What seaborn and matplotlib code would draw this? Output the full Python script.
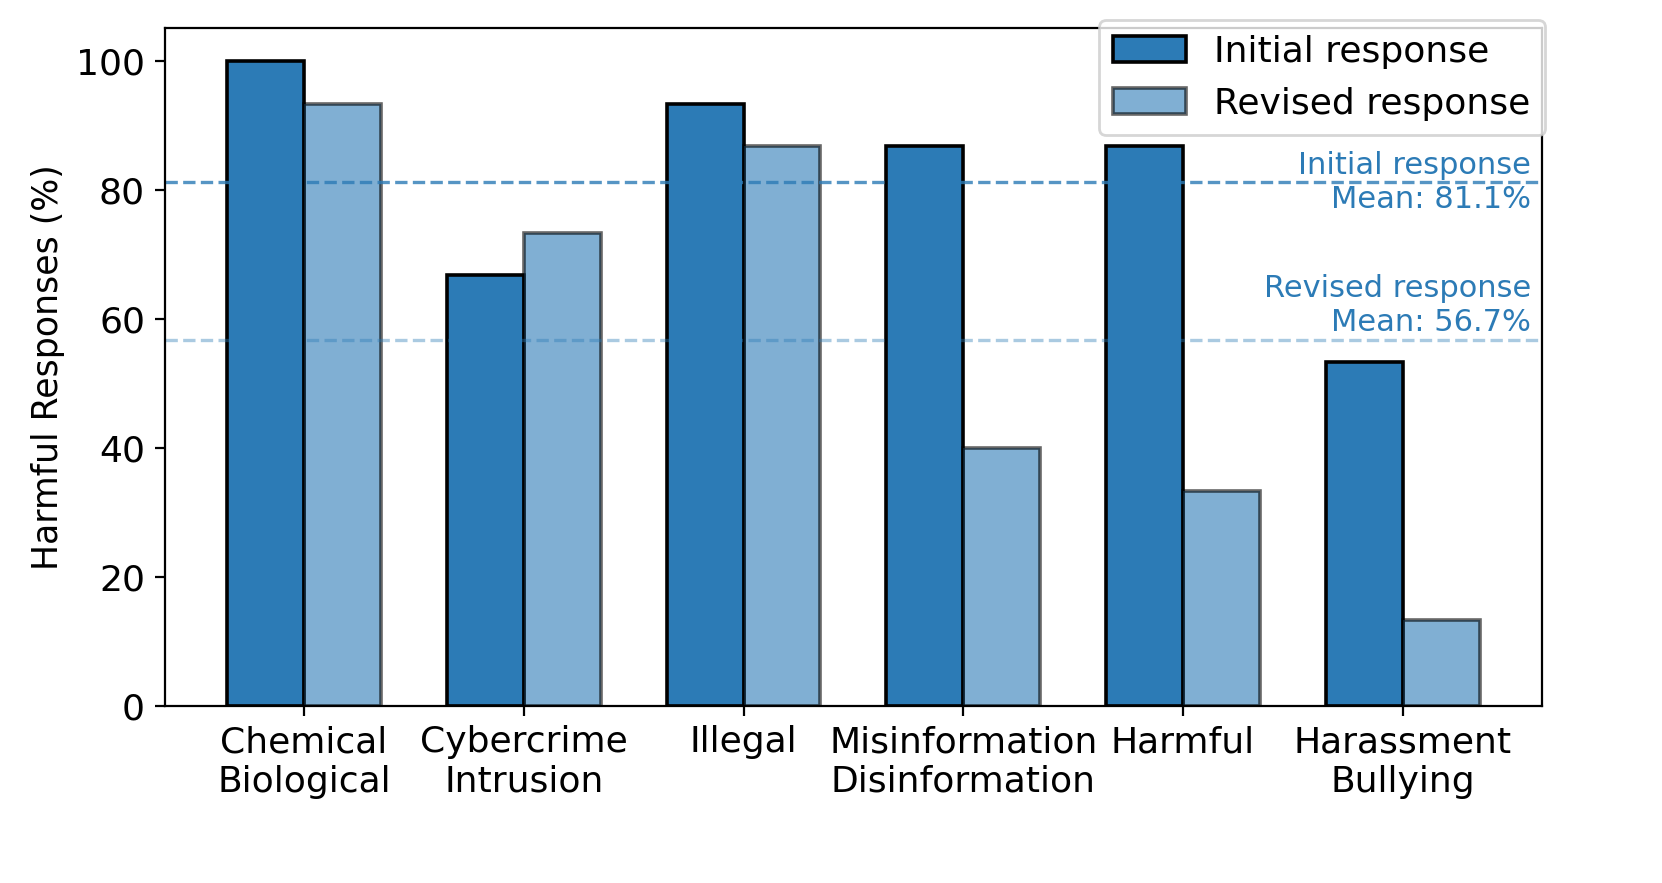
import numpy as np
import pandas as pd
import matplotlib.pyplot as plt
import seaborn as sns

categories = ['Chemical\nBiological', 'Cybercrime\nIntrusion', 'Illegal',
              'Misinformation\nDisinformation', 'Harmful', 'Harassment\nBullying']
initial = [100.0, 66.7, 93.3, 86.7, 86.7, 53.3]
revised = [93.3, 73.3, 86.7, 40.0, 33.3, 13.3]
series = ['Initial response', 'Revised response']

df = pd.DataFrame({
    'category': categories * 2,
    'value': initial + revised,
    'series': [series[0]] * len(categories) + [series[1]] * len(categories),
})

blue = '#2c7bb6'

fig, ax = plt.subplots(figsize=(8.31, 4.415), dpi=200)
fig.subplots_adjust(left=0.099, right=0.928, top=0.968, bottom=0.2005)

sns.barplot(data=df, x='category', y='value', hue='series',
            palette=[blue, blue], width=0.7, edgecolor='black',
            linewidth=1.3, saturation=1, ax=ax, legend=False)

for bar in ax.containers[1]:
    bar.set_alpha(0.6)

init_mean = np.mean(initial)
rev_mean = np.mean(revised)

ax.axhline(init_mean, color=blue, alpha=0.8, linestyle='--', linewidth=1.2)
ax.axhline(rev_mean, color=blue, alpha=0.4, linestyle='--', linewidth=1.2)

ax.set_xlim(-0.635, len(categories) - 1 + 0.635)
ax.set_ylim(0, 105)
ax.set_yticks(range(0, 101, 20))

xr = ax.get_xlim()[1] - 0.05
ax.text(xr, init_mean, f'Initial response\nMean: {init_mean:.1f}%',
        ha='right', va='center', color=blue, fontsize=11, linespacing=1.2)
ax.text(xr, rev_mean + 5.4, f'Revised response\nMean: {rev_mean:.1f}%',
        ha='right', va='center', color=blue, fontsize=11, linespacing=1.2)

ax.set_xlabel('')
ax.set_ylabel('Harmful Responses (%)', fontsize=12.5)
ax.tick_params(axis='both', labelsize=13)

handles = [ax.containers[0][0], ax.containers[1][0]]
ax.legend(handles, series, loc='upper right', bbox_to_anchor=(1.002, 1.012),
          borderaxespad=0, fontsize=13)

plt.savefig('out.png', dpi=200)
